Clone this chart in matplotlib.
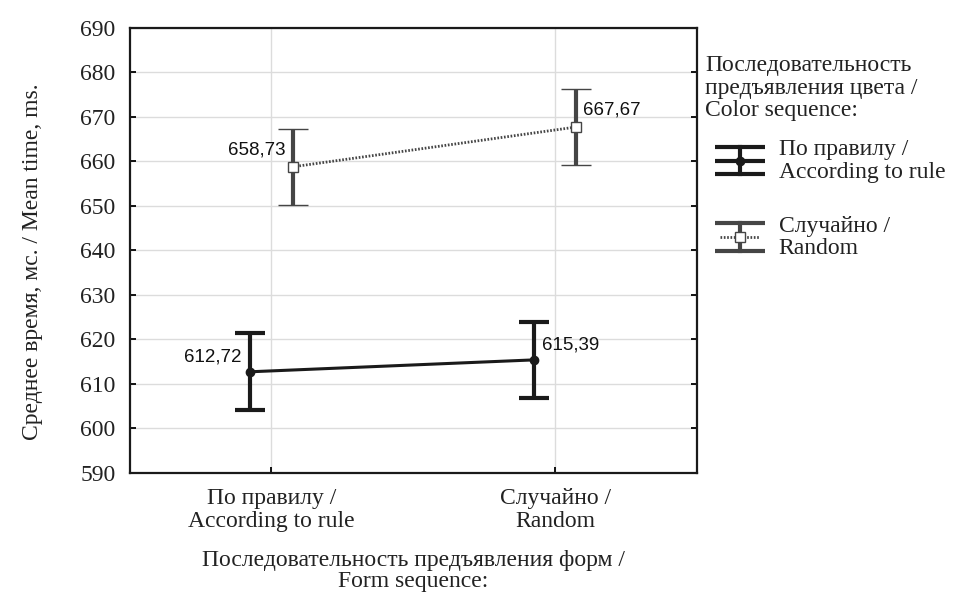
import matplotlib.pyplot as plt
import numpy as np
from matplotlib.legend_handler import HandlerBase
from matplotlib.lines import Line2D

forms = ["По правилу /\nAccording to rule", "Случайно /\nRandom"]
rule_means = [612.72, 615.39]
rule_err = [8.6, 8.5]
random_means = [658.73, 667.67]
random_err = [8.5, 8.5]
series_names = ["По правилу /\nAccording to rule", "Случайно /\nRandom"]
rule_labels = ["612,72", "615,39"]
random_labels = ["658,73", "667,67"]

serif = "Liberation Serif"
sans = "Liberation Sans"
fs = 17
txt_color = "#222222"
black = "#1a1a1a"
grey = "#454545"


class ErrHandle(HandlerBase):
    # legend key: two wide caps, a short bar and the series line with its marker
    def __init__(self, color, ls, lw, marker, mfc, ms, mid_frac):
        super().__init__()
        self.color, self.ls, self.lw = color, ls, lw
        self.marker, self.mfc, self.ms, self.mid_frac = marker, mfc, ms, mid_frac

    def create_artists(self, legend, orig_handle, xdescent, ydescent,
                       width, height, fontsize, trans):
        x0, x1 = -xdescent, width - xdescent
        yc = height / 2 - ydescent
        d = 10
        xm = (x0 + x1) / 2
        arts = []
        for yy in (yc - d, yc + d):
            arts.append(Line2D([x0, x1], [yy, yy], color=self.color, lw=3.0,
                               solid_capstyle="butt"))
        arts.append(Line2D([xm, xm], [yc - d, yc + d], color=self.color, lw=3.0))
        sh = (x1 - x0) * (1 - self.mid_frac) / 2
        arts.append(Line2D([x0 + sh, x1 - sh], [yc, yc], color=self.color,
                           ls=self.ls, lw=self.lw, solid_capstyle="butt"))
        arts.append(Line2D([xm], [yc], marker=self.marker, ms=self.ms,
                           mfc=self.mfc, mec=self.color, mew=1.0, ls="none"))
        for a in arts:
            a.set_transform(trans)
        return arts


fig = plt.figure(figsize=(9.6, 5.94), dpi=100)
ax = fig.add_axes([0.135, 0.2037, 0.591, 0.75])

x = np.arange(len(forms))
off = 0.075

e1 = ax.errorbar(x - off, rule_means, yerr=rule_err, color=black, lw=2.2,
                 marker="o", ms=6, elinewidth=3.0, capsize=11, capthick=3.0,
                 label=series_names[0], zorder=3)
e2 = ax.errorbar(x + off, random_means, yerr=random_err, color=grey, lw=2.0,
                 ls=(0, (0.6, 0.6)), marker="s", ms=7, mfc="white", mec=grey,
                 mew=1.0, elinewidth=3.0, ecolor=grey, capsize=11, capthick=3.0,
                 label=series_names[1], zorder=3)

# value labels next to the means
for i in range(len(forms)):
    side = -1 if i == 0 else 1
    ha = "right" if i == 0 else "left"
    ax.annotate(rule_labels[i], (x[i] - off, rule_means[i]), xytext=(6 * side, 11),
                textcoords="offset points", ha=ha, va="center", fontsize=13.5,
                family=sans, color="#111")
    ax.annotate(random_labels[i], (x[i] + off, random_means[i]), xytext=(5 * side, 12),
                textcoords="offset points", ha=ha, va="center", fontsize=13.5,
                family=sans, color="#111")

ax.set_xlim(-0.5, 1.5)
ax.set_ylim(590, 690)
ax.set_yticks(np.arange(590, 691, 10))
ax.set_xticks(x)
ax.set_xticklabels(forms, family=serif, fontsize=fs, color=txt_color, linespacing=1.1)
for lab in ax.get_yticklabels():
    lab.set_family(serif)
    lab.set_fontsize(fs)
    lab.set_color(txt_color)
ax.grid(True, color="#dcdcdc", lw=1.0)
ax.set_axisbelow(True)
ax.tick_params(direction="in", length=4, width=1.3, right=True)
ax.tick_params(axis="y", pad=10)
ax.tick_params(axis="x", pad=11)
for s in ax.spines.values():
    s.set_linewidth(1.6)
    s.set_color("#1a1a1a")

ax.set_xlabel("Последовательность предъявления форм /\nForm sequence:", family=serif,
              fontsize=fs, color=txt_color, labelpad=13, linespacing=1.0)
ax.set_ylabel("Среднее время, мс. / Mean time, ms.", family=serif, fontsize=fs,
              color=txt_color)
ax.yaxis.set_label_coords(-0.153, 0.475)

fig.text(705 / 960, 1 - 55 / 594, "Последовательность\nпредъявления цвета /\nColor sequence:",
         family=serif, fontsize=fs, color=txt_color, ha="left", va="top", linespacing=1.1)

leg = fig.legend(handles=[e1, e2], loc="upper left", bbox_to_anchor=(715 / 960, 1 - 139 / 594),
                 frameon=False, prop={"family": serif, "size": fs},
                 handler_map={e1: ErrHandle(black, "-", 3.0, "o", black, 6, 1.0),
                              e2: ErrHandle(grey, (0, (0.6, 0.6)), 2.0, "s", "white", 7, 0.8)},
                 handlelength=2.1, labelspacing=1.4, handletextpad=0.6,
                 borderaxespad=0, borderpad=0)
for t in leg.get_texts():
    t.set_linespacing(1.1)
    t.set_color(txt_color)

fig.savefig("out.png", dpi=100)
